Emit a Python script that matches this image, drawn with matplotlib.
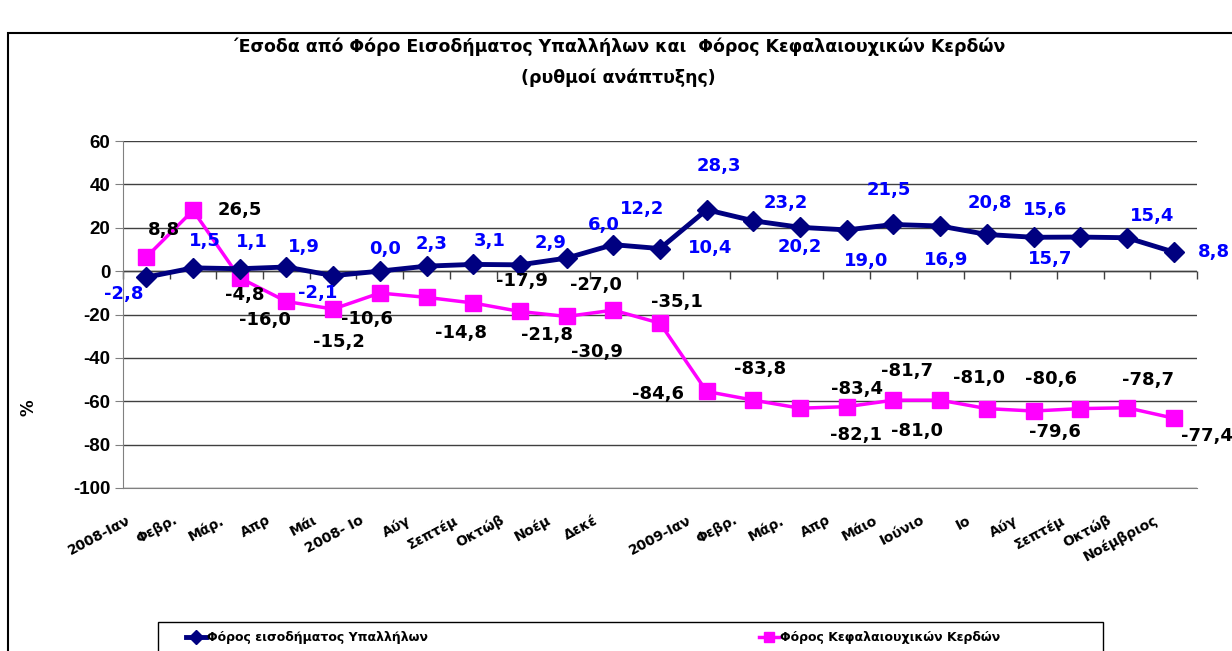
import numpy as np
import matplotlib.pyplot as plt
from matplotlib.patches import Rectangle
from matplotlib.transforms import ScaledTranslation

plt.rcParams['axes.unicode_minus'] = False

# %% Data
months = ["2008-Ιαν", "Φεβρ.", "Μάρ.", "Απρ", "Μάι", "2008- Ιο", "Αύγ", "Σεπτέμ",
          "Οκτώβ", "Νοέμ", "Δεκέ", "", "2009-Ιαν", "Φεβρ.", "Μάρ.", "Απρ", "Μάιο",
          "Ιούνιο", "Ιο", "Αύγ", "Σεπτέμ", "Οκτώβ", "Νοέμβριος"]

# Φόρος εισοδήματος Υπαλλήλων (growth %)
employees = [-2.8, 1.5, 1.1, 1.9, -2.1, 0.0, 2.3, 3.1, 2.9, 6.0, 12.2, 10.4,
             28.3, 23.2, 20.2, 19.0, 21.5, 20.8, 16.9, 15.6, 15.7, 15.4, 8.8]

# Φόρος Κεφαλαιουχικών Κερδών: plotted positions and the printed labels differ
capital_plotted = [6.5, 28.0, -3.1, -14.0, -17.5, -10.1, -12.1, -14.7, -18.6, -20.9,
                   -18.0, -24.0, -55.5, -59.5, -63.2, -62.5, -59.5, -59.5, -63.4,
                   -64.5, -63.4, -63.0, -67.8]
capital_labels = [8.8, 26.5, -4.8, -16.0, -15.2, -10.6, -14.8, -17.9, -21.8, -27.0,
                  -30.9, -35.1, -84.6, -83.8, -83.4, -82.1, -81.7, -81.0, -81.0,
                  -80.6, -79.6, -78.7, -77.4]

# label offsets in pixels (dx, dy), hand placed like the original
emp_offsets = [(-23, -17), (12, 27), (12, 27), (17, 20), (-15, -17), (5, 22), (5, 22),
               (17, 23), (31, 22), (37, 33), (29, 36), (50, 1), (12, 44), (32, 18),
               (0, -20), (19, -31), (-5, 34), (50, 23), (-41, -26), (12, 27),
               (-30, -22), (25, 22), (40, 0)]
cap_offsets = [(18, 27), (47, 0), (5, -17), (-21, -19), (6, -33), (-13, -26), (34, -36),
               (49, 22), (27, -24), (29, 31), (-16, -42), (17, 21), (-49, -3),
               (7, 31), (57, 19), (9, -28), (14, 29), (-23, -31), (-8, 31), (17, 32),
               (-25, -23), (21, 28), (33, -18)]


def fmt(v):
    return f"{v:.1f}".replace('.', ',')


# %% Figure
W, H = 1232, 651
fig = plt.figure(figsize=(W / 100, H / 100), dpi=100)
ax = fig.add_axes([123 / W, 1 - 488 / H, 1074 / W, 347 / H])

x = np.arange(len(months))
line_emp, = ax.plot(x, employees, color='#000080', lw=3.5, marker='D', ms=10, zorder=4,
                    label='Φόρος εισοδήματος Υπαλλήλων')
line_cap, = ax.plot(x, capital_plotted, color='#FF00FF', lw=2.5, marker='s', ms=11,
                    zorder=3, label='Φόρος Κεφαλαιουχικών Κερδών')

# data labels
for i in range(len(x)):
    ax.annotate(fmt(employees[i]), (x[i], employees[i]), xytext=emp_offsets[i],
                textcoords='offset pixels', ha='center', va='center',
                color='#0000FF', fontsize=13, fontweight='bold', zorder=5)
    ax.annotate(fmt(capital_labels[i]), (x[i], capital_plotted[i]), xytext=cap_offsets[i],
                textcoords='offset pixels', ha='center', va='center',
                color='black', fontsize=13, fontweight='bold', zorder=5)

ax.set_xlim(-0.5, len(x) - 0.5)
ax.set_ylim(-100, 60)
ax.set_yticks(range(-100, 61, 20))
ax.yaxis.grid(True, color='#404040', lw=1)
ax.set_axisbelow(True)

for s in ['top', 'right']:
    ax.spines[s].set_visible(False)
ax.spines['left'].set_color('#808080')
ax.spines['bottom'].set_color('#808080')

# category axis at zero with ticks between categories
ax.axhline(0, color='#404040', lw=1, zorder=2)
ax.plot(np.arange(-0.5, len(x)), np.zeros(len(x) + 1), ls='none', marker=3, ms=6,
        mec='#404040', mew=1, clip_on=False, zorder=2)

ax.tick_params(axis='y', direction='out', length=6, color='#808080', pad=3)
for lab in ax.get_yticklabels():
    lab.set_fontfamily('Liberation Sans')
    lab.set_fontweight('bold')
    lab.set_fontsize(13.5)

ax.set_xticks(x)
ax.set_xticklabels(months, rotation=28, ha='right', rotation_mode='anchor',
                   fontsize=10, fontweight='bold')
ax.tick_params(axis='x', length=0, pad=18)
shift = ScaledTranslation(-20 / 100, 0, fig.dpi_scale_trans)
for lab in ax.get_xticklabels():
    lab.set_transform(lab.get_transform() + shift)

# titles and axis label
fig.text(618 / W, 1 - 47 / H,
         '΄Εσοδα από Φόρο Εισοδήματος Υπαλλήλων και  Φόρος Κεφαλαιουχικών Κερδών',
         ha='center', va='center', fontsize=12.5, fontweight='bold')
fig.text(618 / W, 1 - 78 / H, '(ρυθμοί ανάπτυξης)', ha='center', va='center',
         fontsize=12.5, fontweight='bold')
fig.text(28 / W, 1 - 408 / H, '%', rotation=90, ha='center', va='center',
         fontsize=12, fontweight='bold')

# chart border and legend box (both run off the bottom of the image)
fig.patches.append(Rectangle((8 / W, -0.1), 1.2, 1 - 33 / H + 0.1, transform=fig.transFigure,
                             fill=False, ec='black', lw=1.5))
fig.patches.append(Rectangle((158 / W, -0.1), (1103 - 158) / W, (651 - 622) / H + 0.1,
                             transform=fig.transFigure, fill=False, ec='black', lw=1))

for handle, xpos in [(line_emp, 186), (line_cap, 759)]:
    fig.legend(handles=[handle], loc='center left', bbox_to_anchor=(xpos / W, 1 - 638 / H),
               frameon=False, handlelength=1.6, handletextpad=0.1, markerscale=0.7,
               borderpad=0, borderaxespad=0, prop=dict(weight='bold', size=9))

fig.savefig('out.png', dpi=100)
